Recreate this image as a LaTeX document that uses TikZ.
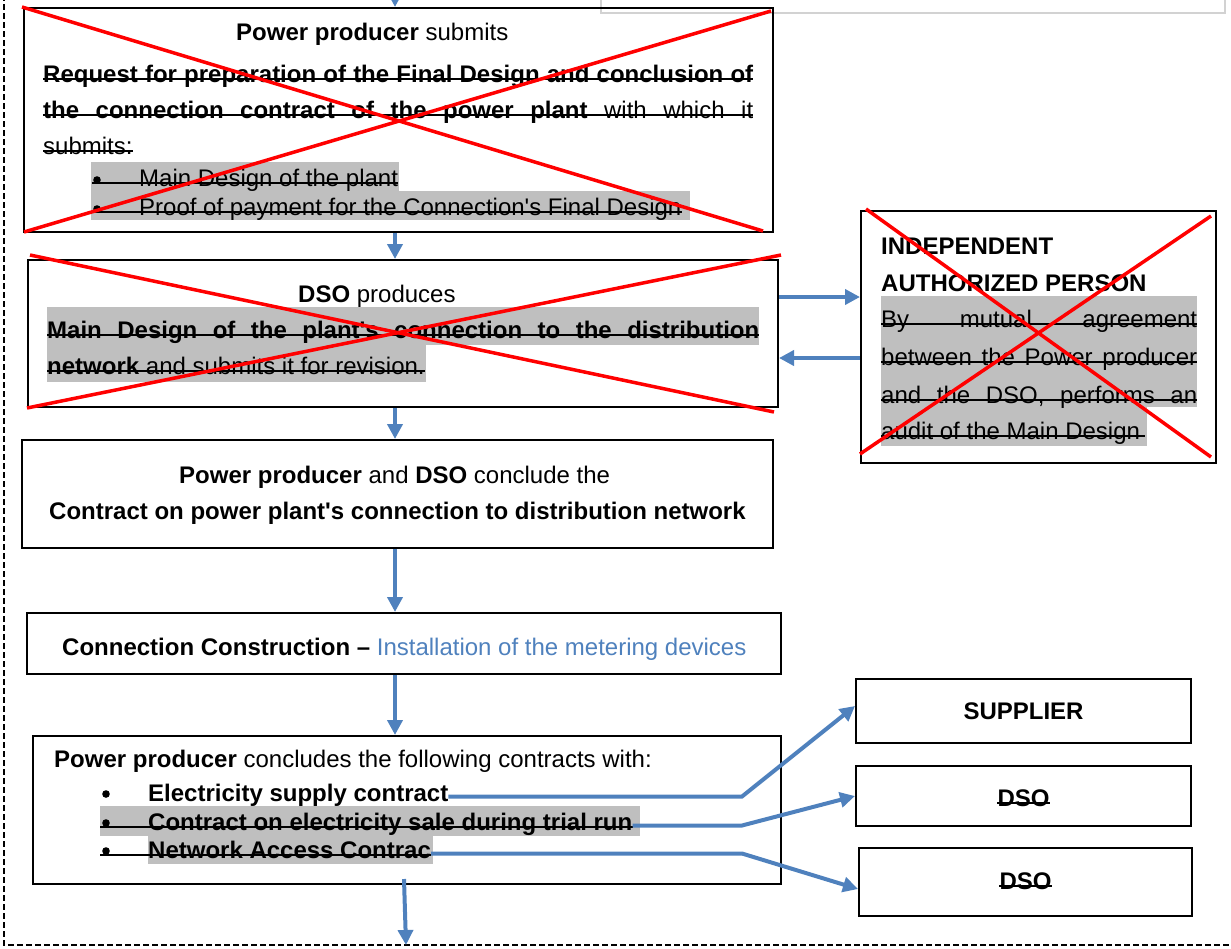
\documentclass[tikz,border=0pt]{standalone}
\usepackage{fontspec}
\newfontfamily\arialfont{Liberation Sans}
\usetikzlibrary{arrows.meta}
\usetikzlibrary{calc}

\definecolor{flowblue}{RGB}{79,129,189}
\definecolor{hlgray}{RGB}{191,191,191}
\definecolor{crossred}{RGB}{255,0,0}
\definecolor{framegray}{RGB}{210,210,210}

\tikzset{
  box/.style={draw, line width=2pt, inner sep=0pt},
  txt/.style={anchor=base west, inner sep=0pt, font=\arialfont\fontsize{24}{29}\selectfont},
  flow/.style={color=flowblue, line width=4pt, -{Triangle[length=15pt,width=15pt]}},
  cross/.style={draw=crossred, line width=3.5pt},
  strike/.style={draw=black, line width=1.2pt},
  hl/.style={fill=hlgray},
}

\begin{document}
\begin{tikzpicture}[x=1pt,y=1pt,yscale=-1]
    \useasboundingbox (0,0) rectangle (1231,948);

    % page frame
    \draw [dash pattern={on 6pt off 3pt}, line width=1.2pt] (4,-5) -- (4,945) -- (1240,945);
    \draw [framegray, line width=1.5pt] (601,-2) -- (601,13) -- (1225,13) -- (1225,-2);

    % boxes
    \node [box, minimum width=749pt, minimum height=224pt] (submit) at (398.5,120) {};
    \node [box, minimum width=750pt, minimum height=147pt] (dsoprod) at (403,333.5) {};
    \node [box, minimum width=751pt, minimum height=108pt] (contract) at (397.5,494) {};
    \node [box, minimum width=754pt, minimum height=61pt] (construct) at (404,643.5) {};
    \node [box, minimum width=748pt, minimum height=148pt] (contracts) at (407,810) {};
    \node [box, minimum width=355pt, minimum height=252pt] (indep) at (1038.5,337) {};
    \node [box, minimum width=335pt, minimum height=64pt, font=\arialfont\fontsize{24}{29}\selectfont\bfseries] (supplier) at (1023.5,711) {SUPPLIER};
    \node [box, minimum width=335pt, minimum height=60pt] (dso1) at (1023.5,796) {};
    \node [box, minimum width=333pt, minimum height=68pt] (dso2) at (1025.5,882) {};

    % highlights
    \fill [hl] (91,162) rectangle (399,191);
    \fill [hl] (91,191) rectangle (690,220);
    \fill [hl] (47,307) rectangle (759,345);
    \fill [hl] (47,345) rectangle (426,382);
    \fill [hl] (881,296) rectangle (1197,407);
    \fill [hl] (881,407) rectangle (1147,446);
    \fill [hl] (100,806) rectangle (640,836);
    \fill [hl] (148,836) rectangle (433,864);

    % Text Node: request
    \node [txt] (s0) at (236,40) {\textbf{Power producer} submits};
    \node [txt] (s1) at (43,82) {\makebox[710pt][s]{\bfseries Request for preparation of the Final Design and conclusion of}};
    \node [txt] (s2) at (43,118) {\makebox[710pt][s]{\textbf{the connection contract of the power plant} with which it}};
    \node [txt] (s3) at (43,154) {submits:};
    \node [txt] (s4) at (139,186) {Main Design of the plant};
    \node [txt] (s5) at (139,215) {Proof of payment for the Connection's Final Design};

    % Text Node: main design
    \node [txt] (d0) at (298,302) {\textbf{DSO} produces};
    \node [txt] (d1) at (47,338) {\makebox[712pt][s]{\bfseries Main Design of the plant's connection to the distribution}};
    \node [txt] (d2) at (47,374) {\textbf{network} and submits it for revision.};

    % Text Node: contract
    \node [txt] (c0) at (179,483) {\textbf{Power producer} and \textbf{DSO} conclude the};
    \node [txt] (c1) at (49,519) {\textbf{Contract on power plant's connection to distribution network}};

    % Text Node: construction
    \node [txt] (k0) at (62,655) {\textbf{Connection Construction –} \textcolor{flowblue}{Installation of the metering devices}};

    % Text Node: contracts
    \node [txt] (p0) at (54,767) {\textbf{Power producer} concludes the following contracts with:};
    \node [txt] (p1) at (148,801) {\textbf{Electricity supply contract}};
    \node [txt] (p2) at (148,830) {\textbf{Contract on electricity sale during trial run}};
    \node [txt] (p3) at (148,858) {\textbf{Network Access Contrac}};

    % Text Node: independent person
    \node [txt] (i0) at (881,254) {\textbf{INDEPENDENT}};
    \node [txt] (i1) at (881,291) {\textbf{AUTHORIZED PERSON}};
    \node [txt] (i2) at (881,327) {\makebox[316pt][s]{By mutual agreement}};
    \node [txt] (i3) at (881,365) {\makebox[316pt][s]{between the Power producer}};
    \node [txt] (i4) at (881,403) {\makebox[316pt][s]{and the DSO, performs an}};
    \node [txt] (i5) at (881,439) {audit of the Main Design};

    % Text Node: DSO boxes
    \node [txt, anchor=base] (dso1t) at (1023.5,806) {\textbf{DSO}};
    \node [txt, anchor=base] (dso2t) at (1025.5,889) {\textbf{DSO}};

    % bullets
    \foreach \n in {s4,s5}
      \fill ($(\n.base west)+(-42,-6)$) circle (3.8);
    \foreach \n in {p1,p2,p3}
      \fill ($(\n.base west)+(-42,-7)$) circle (3.8);

    % strike-through
    \foreach \n in {s1,s2,s3,d1,d2,i2,i3,i4,dso1t,dso2t}
      \draw [strike] ($(\n.base west)+(0,-3)$) -- ($(\n.base east)+(0,-3)$);
    \foreach \n in {s4,s5}
      \draw [strike] ($(\n.base west)+(-47,-3)$) -- ($(\n.base east)+(0,-3)$);
    \foreach \n in {p2,p3}
      \draw [strike] ($(\n.base west)+(-48,-3)$) -- ($(\n.base east)+(0,-3)$);
    \draw [strike] ($(i5.base west)+(0,-3)$) -- ($(i5.base east)+(5,-3)$);

    % connectors
    \coordinate (axis) at (395,-30);
    \coordinate (hi) at (820,297);
    \coordinate (lo) at (820,358);
    \coordinate (elbow) at (742,0);
    \coordinate (exit) at (406,945);
    \coordinate (p1end) at ($(p1.base east)+(0,-4.5)$);
    \coordinate (p2end) at ($(p2.base east)+(0,-4.5)$);
    \coordinate (p3end) at ($(p3.base east)+(0,-4.5)$);

    \draw [flow] (axis) -- (submit.north -| axis);
    \draw [flow] (submit.south -| axis) -- (dsoprod.north -| axis);
    \draw [flow] (dsoprod.south -| axis) -- (contract.north -| axis);
    \draw [flow] (contract.south -| axis) -- (construct.north -| axis);
    \draw [flow] (construct.south -| axis) -- (contracts.north -| axis);
    \draw [flow] ($(contracts.south)+(-3,-6)$) -- (exit);
    \draw [flow] (dsoprod.east |- hi) -- (indep.west |- hi);
    \draw [flow] (indep.west |- lo) -- (dsoprod.east |- lo);
    \draw [flow] (p1end) -- (p1end -| elbow) -- ($(supplier.west)+(0,-5)$);
    \draw [flow] (p2end) -- (p2end -| elbow) -- (dso1.west);
    \draw [flow] (p3end) -- (p3end -| elbow) -- ($(dso2.west)+(0,7)$);

    % crossed out
    \draw [cross] ($(submit.north west)+(-1,0)$) -- ($(submit.south east)+(-11,-2)$);
    \draw [cross] ($(submit.south west)+(1,-1)$) -- ($(submit.north east)+(-3,4)$);
    \draw [cross] ($(dsoprod.north west)+(3,-4)$) -- ($(dsoprod.south east)+(-5,4)$);
    \draw [cross] (dsoprod.south west) -- ($(dsoprod.north east)+(2,-4)$);
    \draw [cross] ($(indep.north west)+(6,-1)$) -- ($(indep.south east)+(-6,-7)$);
    \draw [cross] ($(indep.south west)+(0,-10)$) -- ($(indep.north east)+(-6,6)$);

\end{tikzpicture}
\end{document}
